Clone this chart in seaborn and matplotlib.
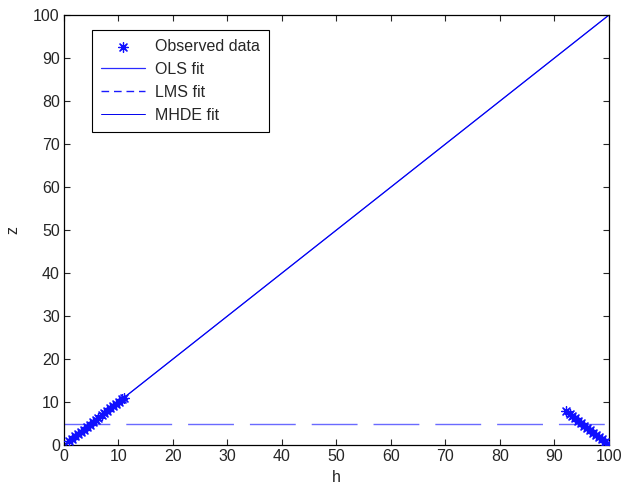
import matplotlib
matplotlib.use("Agg")
import matplotlib.pyplot as plt
import seaborn as sns
import pandas as pd

# Observed data
obs_h = [1.0, 1.5, 2.0, 2.6, 3.1, 3.6, 4.2, 4.7, 5.3, 5.8, 6.3, 6.9, 7.4, 7.9,
         8.5, 9.0, 9.6, 10.1, 10.6, 11.0,
         92.2, 92.8, 93.3, 93.8, 94.4, 94.9, 95.5, 96.0, 96.5, 97.1, 97.6,
         98.2, 98.7, 99.2, 99.7]
obs_z = [1.0, 1.5, 2.0, 2.6, 3.1, 3.6, 4.2, 4.7, 5.3, 5.8, 6.3, 6.9, 7.4, 7.9,
         8.5, 9.0, 9.6, 10.1, 10.6, 11.0,
         7.8, 7.2, 6.7, 6.2, 5.6, 5.1, 4.5, 4.0, 3.5, 2.9, 2.4,
         1.8, 1.3, 0.8, 0.3]

# Fits
ols_h = [0, 100]
ols_z = [0, 100]
lms_h = [0, 100]
lms_z = [5, 5]
mhde_h = [0, 100]
mhde_z = [0, 100]

xticks = [0, 10, 20, 30, 40, 50, 60, 70, 80, 90, 100]
yticks = [0, 10, 20, 30, 40, 50, 60, 70, 80, 90, 100]

sns.set_style("ticks")
plt.rcParams['font.family'] = ['Liberation Sans', 'DejaVu Sans']
FS = 11.5

fig = plt.figure(figsize=(6.23, 4.87), dpi=100)
ax = fig.add_axes([0.1027, 0.0862, 0.8748, 0.8830])

obs = pd.DataFrame({"h": obs_h, "z": obs_z})
ols = pd.DataFrame({"h": ols_h, "z": ols_z})
lms = pd.DataFrame({"h": lms_h, "z": lms_z})
mhde = pd.DataFrame({"h": mhde_h, "z": mhde_z})

sns.lineplot(data=ols, x="h", y="z", ax=ax, color="#2a2aff", linewidth=0.9,
             label="OLS fit", zorder=2)
sns.lineplot(data=lms, x="h", y="z", ax=ax, color="#6a6aff", linewidth=1.0,
             label="LMS fit", zorder=2)
lms_line = ax.lines[-1]
lms_line.set_dashes((33, 11.5))
sns.lineplot(data=mhde, x="h", y="z", ax=ax, color="#0000ee", linewidth=0.7,
             label="MHDE fit", zorder=2)
sns.scatterplot(data=obs, x="h", y="z", ax=ax, marker=(8, 2, 0), s=50,
                color="#1010ff", edgecolor="#1010ff", linewidth=0.9,
                label="Observed data", zorder=3)

ax.set_xlim(0, 100)
ax.set_ylim(0, 100)
ax.set_xticks(xticks)
ax.set_yticks(yticks)
ax.tick_params(direction="in", length=4.5, width=0.8, labelsize=FS,
               top=True, right=True, pad=3)
ax.tick_params(axis='x', labeltop=False)
ax.tick_params(axis='y', labelright=False)
for s in ax.spines.values():
    s.set_visible(True)
    s.set_linewidth(0.9)
    s.set_color("black")
ax.set_xlabel("h", fontsize=FS, labelpad=4)
ax.set_ylabel("z", fontsize=FS, labelpad=9)

handles, labels = ax.get_legend_handles_labels()
order = [labels.index(l) for l in ["Observed data", "OLS fit", "LMS fit", "MHDE fit"]]
leg = ax.legend([handles[i] for i in order], [labels[i] for i in order],
                loc="upper left", bbox_to_anchor=(0.051, 0.965),
                fontsize=FS, frameon=True, fancybox=False, edgecolor="black",
                framealpha=1, handlelength=2.8, borderpad=0.55,
                labelspacing=0.5, handletextpad=0.6, borderaxespad=0)
leg.get_frame().set_linewidth(0.8)
lh = leg.legend_handles
lh[2].set_dashes((5.5, 3.5))
lh[2].set_color("#1a1aff")

fig.savefig("out.png", dpi=100)
